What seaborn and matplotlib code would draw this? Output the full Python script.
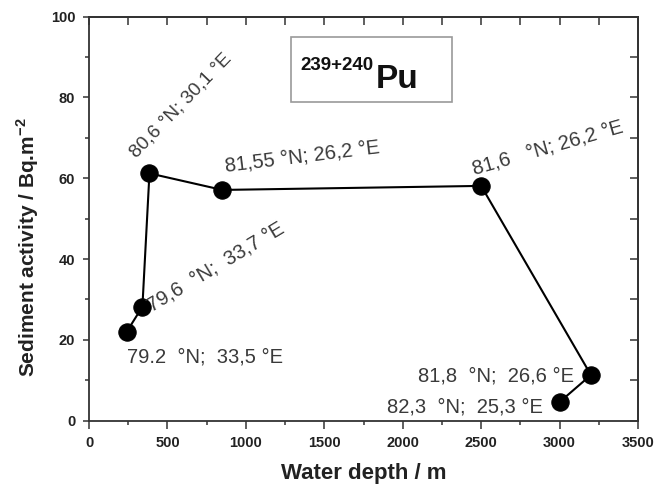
import matplotlib
matplotlib.use("Agg")
import matplotlib.pyplot as plt
import seaborn as sns
import pandas as pd
from matplotlib.ticker import MultipleLocator
from matplotlib.patches import Rectangle

# ---- data ----
depth = [240, 340, 385, 850, 2500, 3200, 3000]
activity = [22, 28.2, 61.2, 57.1, 58.1, 11.3, 4.6]
site_labels = [
    "79.2  °N;  33,5 °E",
    "79,6  °N;  33,7 °E",
    "80,6 °N; 30,1 °E",
    "81,55 °N; 26,2 °E",
    "81,6   °N; 26,2 °E",
    "81,8  °N;  26,6 °E",
    "82,3  °N;  25,3 °E",
]
x_ticks = [0, 500, 1000, 1500, 2000, 2500, 3000, 3500]
y_ticks = [0, 20, 40, 60, 80, 100]
isotope_sup = "239+240"
isotope = "Pu"

sns.set_theme(style="white")
plt.rcParams["font.family"] = ["Liberation Sans", "DejaVu Sans"]
plt.rcParams["mathtext.fontset"] = "custom"
plt.rcParams["mathtext.rm"] = "Liberation Sans"
plt.rcParams["mathtext.bf"] = "Liberation Sans:bold"

df = pd.DataFrame({"depth": depth, "activity": activity})

fig = plt.figure(figsize=(6.55, 4.88), dpi=100)
ax = fig.add_axes([0.136, 0.138, 0.838, 0.828])

sns.lineplot(data=df, x="depth", y="activity", sort=False, ax=ax,
             color="black", linewidth=1.5, marker="o", markersize=12.5,
             markeredgecolor="black", markerfacecolor="black")

ax.set_xlim(0, 3500)
ax.set_ylim(0, 100)
ax.set_xticks(x_ticks)
ax.set_yticks(y_ticks)
ax.xaxis.set_minor_locator(MultipleLocator(250))
ax.yaxis.set_minor_locator(MultipleLocator(10))

txtc = "#3a3a3a"
tickc = "#333333"
ax.tick_params(axis="x", which="major", direction="out", length=5.5, width=1.1,
               color=tickc, labelsize=10.5, labelcolor="#222222", pad=5.5)
ax.tick_params(axis="y", which="major", direction="out", length=4.5, width=1.1,
               color=tickc, labelsize=10.5, labelcolor="#222222", pad=5.5)
ax.tick_params(axis="both", which="minor", direction="out", length=3, width=1.1,
               color=tickc)
ax.tick_params(axis="both", which="both", bottom=True, left=True,
               top=False, right=False)
for lab in ax.get_xticklabels() + ax.get_yticklabels():
    lab.set_fontweight("bold")

# inward ticks on top and right
sec_x = ax.secondary_xaxis("top")
sec_x.set_xticks(x_ticks)
sec_x.xaxis.set_minor_locator(MultipleLocator(250))
sec_x.tick_params(which="both", direction="in", length=5.5, width=1.1,
                  color=tickc, labeltop=False)
sec_y = ax.secondary_yaxis("right")
sec_y.set_yticks(y_ticks)
sec_y.yaxis.set_minor_locator(MultipleLocator(10))
sec_y.tick_params(which="both", direction="in", length=5.5, width=1.1,
                  color=tickc, labelright=False)
for s in list(ax.spines.values()) + [sec_x.spines["top"], sec_y.spines["right"]]:
    s.set_color("#333333")
    s.set_linewidth(1.3)

ax.set_xlabel("Water depth / m", fontsize=16, fontweight="bold", color="#222222")
ax.xaxis.set_label_coords(0.501, -0.104)
ax.set_ylabel(r"Sediment activity / Bq.m$^{\mathbf{-2}}$", fontsize=15,
              fontweight="bold", color="#222222")
ax.yaxis.set_label_coords(-0.088, 0.43)

# site annotations (anchor position, rotation, alignment)
placements = [
    (242, 14.5, 0, "left"),
    (401, 27.0, 31, "left"),
    (300, 65.0, 46, "left"),
    (873, 61.6, 7, "left"),
    (2459, 60.8, 16, "left"),
    (3089, 9.8, 0, "right"),
    (2892, 2.1, 0, "right"),
]
for i, (lab, (px, py, rot, ha)) in enumerate(zip(site_labels, placements)):
    ax.text(px, py, lab, fontsize=13.8 if i == 2 else 14.5, color=txtc,
            rotation=rot, rotation_mode="anchor", ha=ha, va="baseline")

# isotope box
ax.add_patch(Rectangle((0.368, 0.789), 0.293, 0.161, transform=ax.transAxes,
                       facecolor="white", edgecolor="#9a9a9a", linewidth=1.2,
                       zorder=3))
ax.text(0.385, 0.868, isotope_sup, transform=ax.transAxes, fontsize=13.5,
        fontweight="bold", color="#111111", ha="left", va="baseline", zorder=4)
ax.text(0.522, 0.824, isotope, transform=ax.transAxes, fontsize=24,
        fontweight="bold", color="#111111", ha="left", va="baseline", zorder=4)

fig.savefig("out.png", dpi=100)
